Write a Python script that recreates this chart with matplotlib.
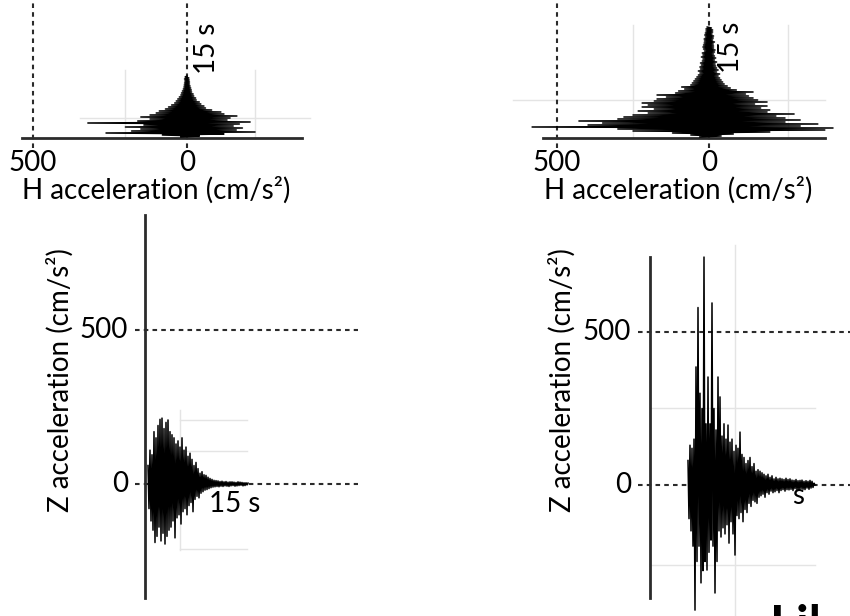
import numpy as np
import matplotlib
matplotlib.use('Agg')
import matplotlib.pyplot as plt

plt.rcParams['font.family'] = ['Lato', 'DejaVu Sans']

DT = 0.1  # s per sample

# horizontal component, weaker record (cm/s^2)
h_small = [20, -40, 80, -120, 263, -221, 180, -160, 150, -180,
           200, -150, 140, -170, 322, -205, 160, -130, 120, -140,
           150, -162, 120, -120, 100, -110, 90, -80, 70, -60,
           60, -55, 50, -45, 40, -40, 35, -30, 30, -28,
           25, -22, 20, -20, 18, -15, 15, -14, 12, -12,
           10, -10, 9, -8, 8, -8, 7, -7, 8, -6, 6, 0]

# horizontal component, stronger record
h_large = [30, -40, 60, -80, 120, -200, 250, -381, 300, -408,
           582, -300, 398, -358, 350, -250, 428, -300, 300, -250,
           280, -220, 250, -280, 200, -191, 233, -200, 180, -170,
           220, -191, 200, -150, 220, -191, 180, -160, 171, -145,
           140, -130, 171, -120, 110, -145, 100, -90, 80, -70,
           90, -60, 60, -50, 55, -45, 50, -40, 45, -35,
           40, -30, 35, -35, 30, -25, 35, -30, 28, -25,
           30, -22, 25, -20, 28, -25, 22, -18, 20, -22,
           25, -18, 20, -15, 22, -18, 15, -20, 18, -15,
           20, -15, 18, -14, 16, -18, 15, -12, 16, -14,
           12, -15, 14, -10, 12, -12, 10, -12, 10, -8, 6]

# vertical component, weaker record
z_small = [60, -80, 110, -120, 95, -150, 170, -190, 150, -170,
           190, -140, 210, -185, 214, -160, 180, -195, 200, -170,
           208, -150, 170, -140, 160, -120, 150, -175, 130, -110,
           140, -100, 120, -130, 150, -90, 110, -80, 120, -100,
           90, -70, 100, -60, 80, -90, 60, -50, 70, -40,
           50, -45, 35, -30, 40, -25, 30, -20, 28, -18,
           22, -15, 18, -12, 15, -10, 12, -9, 11, -8,
           10, -9, 8, -7, 9, -8, 7, -6, 8, -7,
           6, -8, 7, -6, 7, -5, 6, -7, 5, -6,
           7, -5, 6, -4, 5, -6, 4, -5, 4, -3, 3]

# vertical component, stronger record
z_large = [80, -110, 130, -150, 120, -200, 150, -409, 386, -250,
           580, -200, 300, -320, 250, -280, 745, -250, 200, -278,
           353, -220, 200, -180, 595, -200, 250, -353, 180, -250,
           353, -150, 288, -170, 160, -140, 200, -160, 150, -130,
           196, -190, 140, -120, 150, -160, 110, -229, 130, -100,
           120, -110, 173, -90, 100, -120, 90, -80, 70, -90,
           80, -60, 90, -70, 60, -50, 70, -55, 45, -60,
           50, -40, 45, -35, 40, -30, 35, -40, 30, -25,
           35, -30, 25, -20, 30, -25, 20, -22, 25, -18,
           20, -25, 22, -18, 20, -15, 18, -20, 22, -15,
           18, -16, 20, -14, 16, -18, 15, -12, 18, -15,
           14, -16, 15, -12, 16, -14, 12, -15, 14, -10,
           12, -14, 15, -10, 12, -8, 6, 0]

W, H = 850, 616
fig = plt.figure(figsize=(W / 100, H / 100), dpi=100)

LINE = '#2b2b2b'
GRID = '#e4e4e4'
TXT = 20


def panel(box, xref, yref):
    x0, y0, x1, y1 = box
    ax = fig.add_axes([x0 / W, 1 - y1 / H, (x1 - x0) / W, (y1 - y0) / H])
    (va, pa), (vb, pb) = xref
    s = (vb - va) / (pb - pa)
    ax.set_xlim(va + (x0 - pa) * s, va + (x1 - pa) * s)
    (va, pa), (vb, pb) = yref
    s = (vb - va) / (pb - pa)
    ax.set_ylim(va + (y1 - pa) * s, va + (y0 - pa) * s)
    ax.axis('off')
    return ax


def dashed(ax, xs, ys):
    ax.plot(xs, ys, color=LINE, lw=1.5, dashes=(2.2, 2.0))


# ---- H panels: acceleration on x (reversed), time upward ----
for box, x500, x0, trace, base, vgrid, hgrid, t15 in [
        ((0, 0, 425, 210), 33, 187, h_small, (536, -373), ((201, -221), 6.8), (2.0, (347, -399)), (207, 48)),
        ((425, 0, 850, 210), 557, 709, h_large, (546, -382), ((250, -260), 11.3), (3.8, (645, -382)), (731, 47))]:
    ax = panel(box, ((500, x500), (0, x0)), ((0, 138), (1.0, 128)))
    t = np.arange(len(trace)) * DT + 0.1
    for gx in vgrid[0]:
        ax.plot([gx, gx], [0, vgrid[1]], color=GRID, lw=1)
    ax.plot(list(hgrid[1]), [hgrid[0], hgrid[0]], color=GRID, lw=1)
    dashed(ax, [500, 500], [-1.0, 14.0])
    dashed(ax, [0, 0], [-1.0, 14.0])
    ax.plot(list(base), [0, 0], color=LINE, lw=2.0)
    ax.plot(trace, t, color='black', lw=1.1)
    ax.text(500, -2.5, '500', ha='center', va='center', fontsize=TXT)
    ax.text(0, -2.5, '0', ha='center', va='center', fontsize=TXT)
    ax.text(np.mean(base) + 20, -5.2, 'H acceleration (cm/s²)',
            ha='center', va='center', fontsize=TXT)
    fig.text(t15[0] / W, 1 - t15[1] / H, '15 s', rotation=90,
             ha='center', va='center', fontsize=TXT)

# ---- Z panels: time on x, acceleration upward ----
for box, tstart, y500, y0, trace, axis_x, dash_x, vgrid, hgrid, lab_x in [
        ((0, 210, 425, 616), 148, 330, 484, z_small, (-0.3, (873, -370)),
         (-1.3, 21.0), (3.2, (240, -214)), ((208, 107, -211), (3.2, 9.9)), 60),
        ((425, 210, 850, 616), 688, 332, 485, z_large, (-3.8, (745, -369)),
         (-5.0, 16.2), (4.7, (784, -428)), ((252, -261), (-3.8, 12.7)), 562)]:
    ax = panel(box, ((0, tstart), (1.0, tstart + 10)), ((0, y0), (500, y500)))
    t = np.arange(len(trace)) * DT
    ax.plot([vgrid[0]] * 2, list(vgrid[1]), color=GRID, lw=1)
    for gy in hgrid[0]:
        ax.plot(list(hgrid[1]), [gy, gy], color=GRID, lw=1)
    dashed(ax, list(dash_x), [500, 500])
    dashed(ax, list(dash_x), [0, 0])
    ax.plot([axis_x[0]] * 2, list(axis_x[1]), color=LINE, lw=2.0)
    ax.plot(t, trace, color='black', lw=1.1)
    ax.text(dash_x[0] - 0.7, 500, '500', ha='right', va='center', fontsize=TXT)
    ax.text(dash_x[0] - 0.7, 0, '0', ha='right', va='center', fontsize=TXT)
    fig.text(lab_x / W, 1 - 380 / H, 'Z acceleration (cm/s²)', rotation=90,
             ha='center', va='center', fontsize=TXT)

fig.text(235 / W, 1 - 504 / H, '15 s', ha='center', va='center', fontsize=TXT)
fig.text(798 / W, 1 - 496 / H, 's', ha='center', va='center', fontsize=TXT)
fig.text(770 / W, 1 - 604 / H, 'Lil', ha='left', va='top', fontsize=36,
         fontweight='bold')

fig.savefig('out.png', dpi=100)
